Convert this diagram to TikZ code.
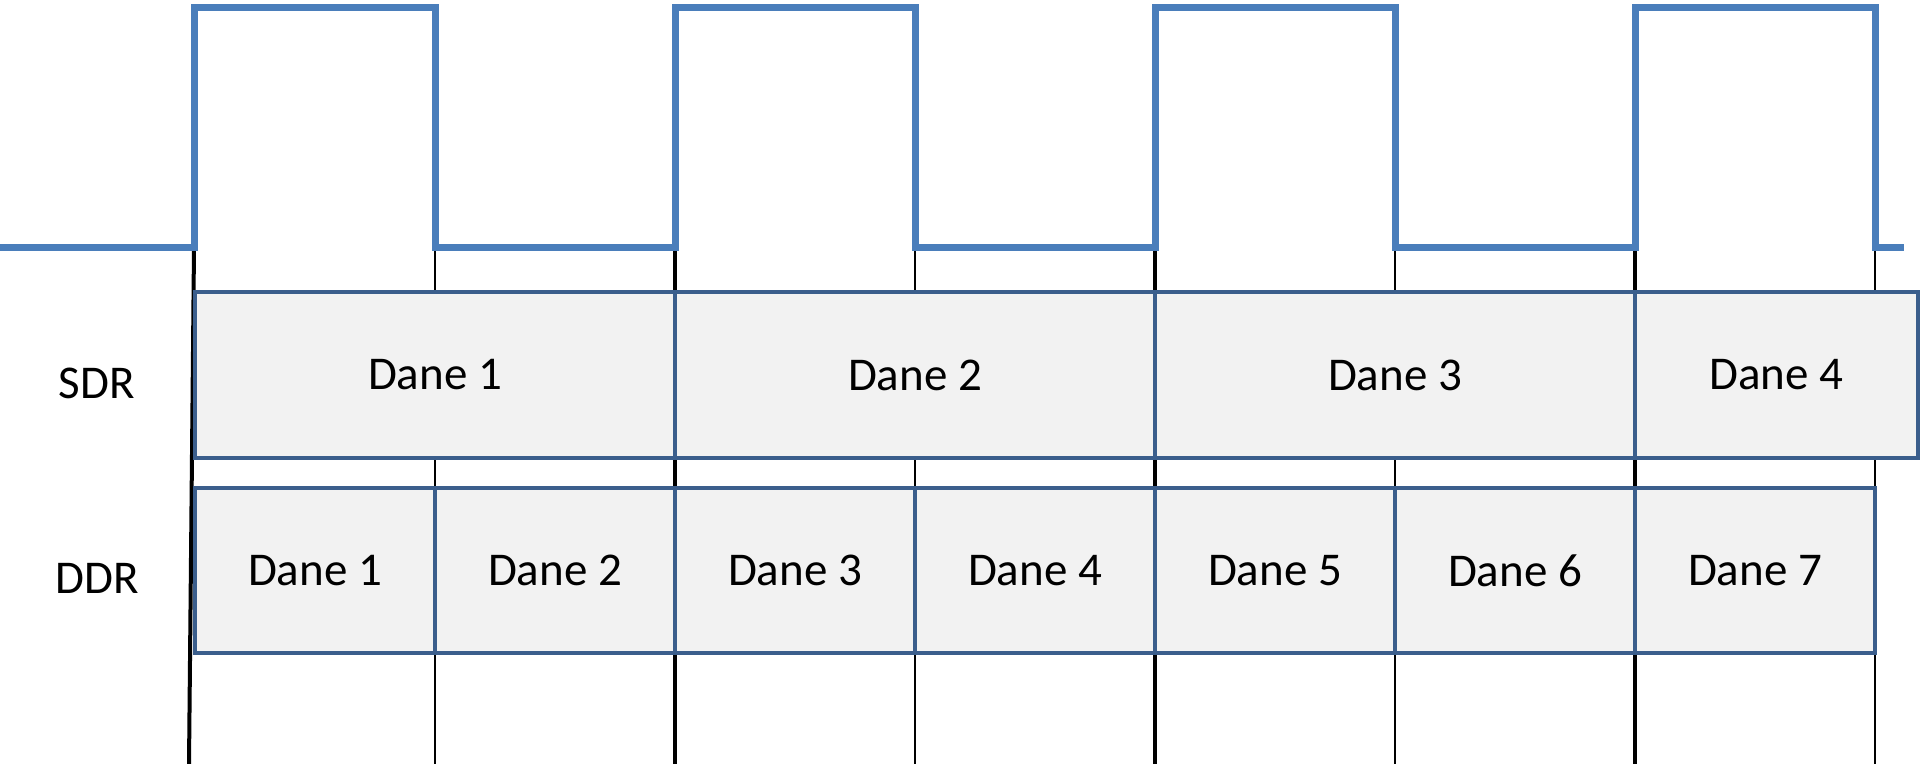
\documentclass[tikz,border=0pt]{standalone}
\usepackage{fontspec}
\setmainfont{Carlito}
\definecolor{clk}{HTML}{4A7EBB}
\definecolor{bord}{HTML}{3B5E8C}
\definecolor{boxfill}{HTML}{F2F2F2}
\begin{document}
\begin{tikzpicture}[x=0.5pt,y=-0.5pt,
  thickline/.style={black,line width=2pt},
  thinline/.style={black,line width=0.7pt},
  databox/.style={draw=bord,fill=boxfill,line width=2pt,inner sep=0pt,outer sep=0pt,
    minimum height=82.5pt,font=\fontsize{23.5}{28}\selectfont},
  rowlabel/.style={font=\fontsize{23.5}{28}\selectfont,inner sep=0pt},
  clock/.style={clk,line width=3.5pt,line join=miter}]
\useasboundingbox (0,0) rectangle (1920,764);
% grid lines
\coordinate (t0) at (194,248); \coordinate (b0) at (189,764);
\draw[thickline] (t0) -- (b0);
\foreach \x in {675,1155,1635}{
  \coordinate (t\x) at (\x,248); \coordinate (b\x) at (\x,764);
  \draw[thickline] (t\x) -- (b\x);}
\foreach \x in {435,915,1395,1875}{
  \coordinate (t\x) at (\x,248); \coordinate (b\x) at (\x,764);
  \draw[thinline] (t\x) -- (b\x);}
% SDR row
\node[databox,minimum width=240pt] (s1) at (435,375) {Dane 1};
\node[databox,minimum width=240pt] (s2) at (915,375) {Dane 2};
\node[databox,minimum width=240pt] (s3) at (1395,375) {Dane 3};
\node[databox,minimum width=141.5pt] (s4) at (1776.5,375) {Dane 4};
% DDR row
\foreach \i/\x in {1/315,2/555,3/795,4/1035,5/1275,6/1515,7/1755}{
  \node[databox,minimum width=120pt] (d\i) at (\x,570.5) {Dane \i};}
% labels
\node[rowlabel] (sdr) at (97,383) {SDR};
\node[rowlabel] (ddr) at (97,578) {DDR};
% clock
\draw[clock] (0,248) -- (194,248) -- (194,8) -- (435,8) -- (435,248)
  -- (675,248) -- (675,8) -- (915,8) -- (915,248)
  -- (1155,248) -- (1155,8) -- (1395,8) -- (1395,248)
  -- (1635,248) -- (1635,8) -- (1875,8) -- (1875,248) -- (1904,248);
\end{tikzpicture}
\end{document}
